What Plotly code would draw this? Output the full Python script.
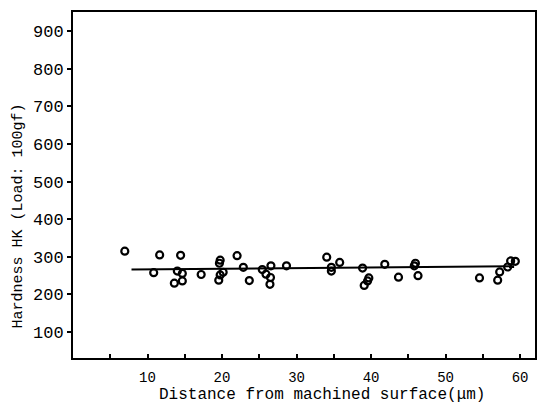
import plotly.graph_objects as go

# Data
distance_um = [6.95, 11.63, 14.44, 10.83, 14.0, 14.67, 13.6, 14.67, 17.2, 19.75, 19.65, 20.15,
               19.75, 19.56, 22.02, 22.86, 23.66, 25.4, 25.9, 26.56, 26.5, 26.43, 28.65,
               34.05, 34.67, 34.67, 35.79, 38.86, 39.7, 39.53, 39.08, 41.84, 43.68, 45.95,
               45.8, 46.3, 54.55, 56.99, 57.26, 58.33, 58.73, 59.36]
hardness_hk = [315, 305, 304, 258, 262, 256, 230, 236, 253, 291, 283, 259,
               252, 238, 303, 272, 237, 266, 254, 276, 245, 227, 276,
               299, 272, 262, 285, 270, 244, 236, 224, 280, 246, 283,
               276, 250, 244, 238, 260, 273, 289, 288]
fit_x = [7.85, 59.2]
fit_y = [266, 275]

y_ticks = [100, 200, 300, 400, 500, 600, 700, 800, 900]
x_ticks = [5, 10, 15, 20, 25, 30, 35, 40, 45, 50, 55, 60]
x_ticklabels = ["" if v % 10 else str(v) for v in x_ticks]

FONT = "Liberation Mono"

fig = go.Figure()
fig.add_trace(go.Scatter(x=fit_x, y=fit_y, mode="lines",
                         line=dict(color="black", width=2), showlegend=False))
fig.add_trace(go.Scatter(x=distance_um, y=hardness_hk, mode="markers",
                         marker=dict(symbol="circle-open", size=7, color="black",
                                     line=dict(width=2.2, color="black")),
                         showlegend=False))

fig.update_layout(
    width=539, height=416,
    margin=dict(l=73, r=2, t=12, b=58),
    paper_bgcolor="white", plot_bgcolor="white",
    font=dict(family=FONT, color="black"),
    xaxis=dict(range=[0, 62], tickvals=x_ticks, ticktext=x_ticklabels,
               ticks="inside", ticklen=4, tickwidth=1.5, tickcolor="black",
               showline=True, linecolor="black", linewidth=2, mirror=True,
               showgrid=False, zeroline=False, ticklabelstandoff=5,
               tickfont=dict(family=FONT, size=14)),
    yaxis=dict(range=[31, 951], tickvals=y_ticks,
               ticks="outside", ticklen=4, tickwidth=1.5, tickcolor="black",
               showline=True, linecolor="black", linewidth=2, mirror=True,
               showgrid=False, zeroline=False,
               tickfont=dict(family=FONT, size=17)),
    annotations=[
        dict(text="Distance from machined surface(\u03bcm)", xref="paper", yref="paper",
             x=(323 - 73) / 464, y=-0.107, xanchor="center", yanchor="middle",
             showarrow=False, font=dict(family=FONT, size=16)),
        dict(text="Hardness HK (Load: 100gf)", xref="paper", yref="paper",
             x=-0.118, y=(358 - 216) / 346, xanchor="center", yanchor="middle",
             textangle=-90, showarrow=False, font=dict(family=FONT, size=15)),
    ],
)

fig.write_html("out.html")
